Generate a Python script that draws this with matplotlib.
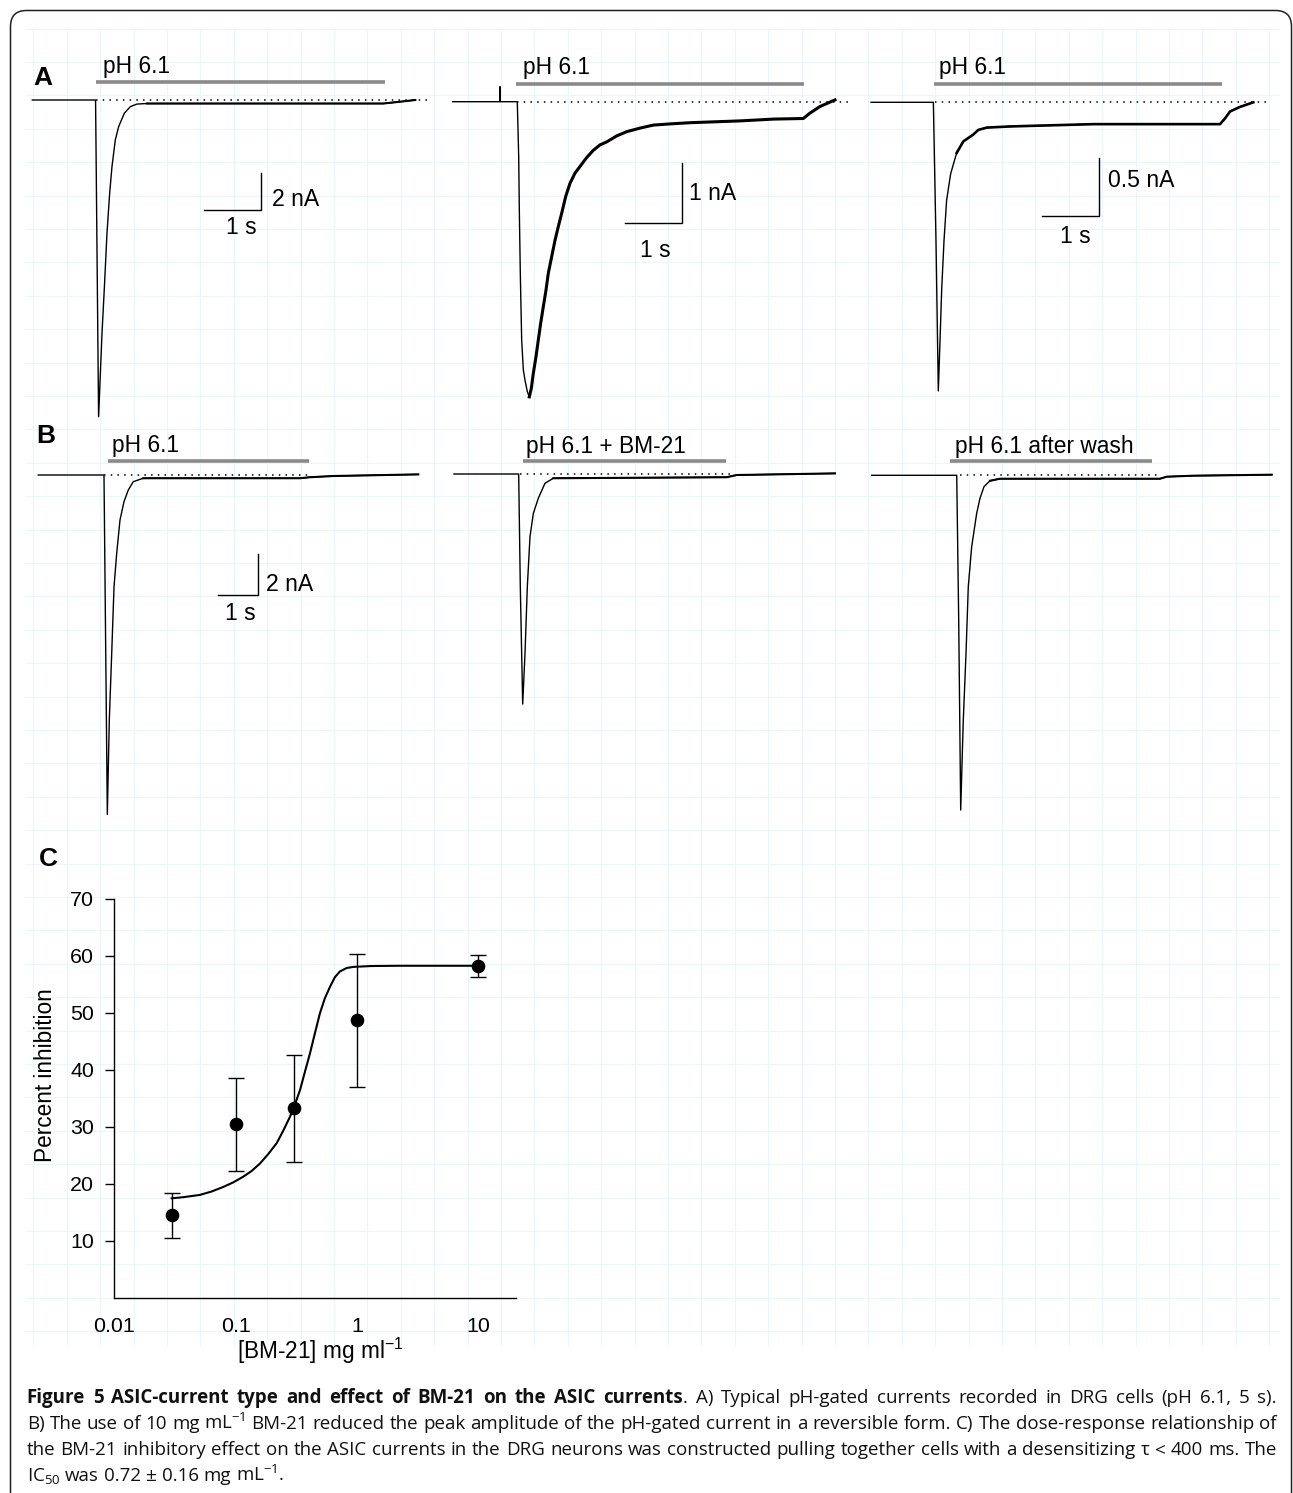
import numpy as np
import matplotlib
matplotlib.use("Agg")
import matplotlib.pyplot as plt
from matplotlib.patches import FancyBboxPatch, Rectangle

# ----------------------------- data -----------------------------
# Panel A: pH 6.1-gated currents (time in s, current in nA)
a1_t = [0.0, 1.11, 1.163, 1.223, 1.268, 1.31, 1.357, 1.398, 1.456, 1.515, 1.614, 1.719, 1.836, 2.01, 6.16, 6.46, 6.72]
a1_i = [0.0, 0.0, -17.12, -12.61, -9.91, -7.21, -5.05, -3.6, -2.16, -1.44, -0.72, -0.36, -0.22, -0.19, -0.19, -0.09, 0.0]

a2_t = [0.0, 0.825, 0.83, 0.835, 1.133, 1.158, 1.168, 1.186, 1.21, 1.239, 1.268, 1.309, 1.344, 1.379, 1.414,
        1.461, 1.502, 1.544, 1.589, 1.637, 1.677, 1.737, 1.795, 1.853, 1.912, 1.982, 2.058, 2.146, 2.233,
        2.351, 2.467, 2.584, 2.702, 2.877, 3.053, 3.286, 3.519, 3.812, 4.163, 5.04, 5.625, 6.151, 6.268,
        6.444, 6.707]
a2_i = [0.0, 0.0, 0.25, 0.0, 0.0, -0.92, -1.75, -2.86, -3.97, -4.47, -4.64, -4.83, -4.92, -4.78, -4.53,
        -4.25, -3.97, -3.69, -3.42, -3.14, -2.86, -2.58, -2.31, -2.08, -1.86, -1.58, -1.36, -1.19, -1.08,
        -0.93, -0.81, -0.72, -0.67, -0.57, -0.50, -0.44, -0.39, -0.37, -0.35, -0.32, -0.29, -0.28, -0.19,
        -0.08, 0.03]

a3_t = [0.0, 1.094, 1.14, 1.181, 1.211, 1.24, 1.281, 1.327, 1.398, 1.503, 1.62, 1.795, 1.883, 2.03, 2.439,
        3.9, 6.123, 6.211, 6.298, 6.474, 6.707]
a3_i = [0.0, 0.0, -1.20, -2.51, -2.07, -1.63, -1.20, -0.85, -0.62, -0.44, -0.34, -0.28, -0.24, -0.22, -0.21,
        -0.19, -0.19, -0.14, -0.08, -0.04, 0.0]

# Panel B: control, + BM-21, after wash
b1_t = [0.0, 1.618, 1.70, 1.749, 1.808, 1.865, 1.931, 2.012, 2.111, 2.217, 2.34, 2.586, 6.446, 6.692, 7.266, 9.36]
b1_i = [0.0, 0.0, -16.8, -12.13, -8.83, -5.53, -3.88, -2.23, -1.32, -0.74, -0.33, -0.16, -0.16, -0.11, -0.05, 0.03]

b2_t = [0.0, 1.593, 1.633, 1.692, 1.749, 1.806, 1.872, 1.954, 2.077, 2.241, 2.446, 6.717, 6.963, 9.384]
b2_i = [0.0, 0.0, -5.58, -11.39, -8.88, -5.58, -3.10, -1.95, -1.20, -0.46, -0.21, -0.16, -0.05, 0.03]

b3_t = [0.0, 2.094, 2.143, 2.192, 2.256, 2.323, 2.379, 2.463, 2.586, 2.667, 2.766, 2.914, 3.16, 7.1, 7.266, 7.921, 9.852]
b3_i = [0.0, 0.0, -7.16, -16.57, -12.11, -8.81, -5.51, -3.53, -1.88, -1.14, -0.56, -0.27, -0.17, -0.17, -0.07, -0.02, 0.03]

# pH application periods (s)
app_start = [1.12, 1.11, 1.11, 1.71, 1.71, 1.93]
app_end = [6.18, 6.17, 6.16, 6.67, 6.69, 6.91]
app_labels = ["pH 6.1", "pH 6.1", "pH 6.1", "pH 6.1", "pH 6.1 + BM-21", "pH 6.1 after wash"]

# Panel C: dose-response
conc = [0.03, 0.1, 0.3, 1.0, 10.0]
inhibition = [14.4, 30.4, 33.2, 48.6, 58.1]
inhibition_err = [3.9, 8.15, 9.35, 11.65, 1.95]
fit_conc = [0.0297, 0.037, 0.0508, 0.0634, 0.0791, 0.0955, 0.1156, 0.1354, 0.1585, 0.186, 0.218, 0.247,
            0.280, 0.308, 0.339, 0.372, 0.409, 0.450, 0.495, 0.543, 0.598, 0.657, 0.722, 0.820, 0.931,
            1.3, 2.25, 10.0]
fit_inhib = [17.4, 17.6, 18.0, 18.6, 19.4, 20.2, 21.2, 22.2, 23.5, 25.2, 27.1, 29.3,
             31.7, 33.9, 36.4, 39.6, 42.8, 46.4, 49.9, 52.5, 54.5, 56.2, 57.2, 57.8, 58.0,
             58.15, 58.2, 58.2]
x_ticks = [0.01, 0.1, 1, 10]
x_ticklabels = ["0.01", "0.1", "1", "10"]
y_ticks = [10, 20, 30, 40, 50, 60, 70]

# ----------------------------- figure -----------------------------
plt.rcParams["font.family"] = ["Liberation Sans", "DejaVu Sans"]
W, H = 1293, 1493
fig = plt.figure(figsize=(W / 100, H / 100), dpi=100)
fig.patch.set_facecolor("white")


def fx(x):
    return x / W


def fy(y):
    return 1 - y / H


# background: faint grid, white image areas, rounded frame
bg = fig.add_axes([0, 0, 1, 1], zorder=-10)
bg.set_xlim(0, W)
bg.set_ylim(H, 0)
bg.axis("off")
gx = np.arange(33.4, 1285, 33.4)
gy = np.arange(28.5, 1350, 33.4)
bg.vlines(gx, 28.5, 1345, color="#eaf7f9", lw=0.8)
bg.hlines(gy, 25, 1280, color="#eaf7f9", lw=0.8)
for (rx, ry, rw, rh) in [(33, 62, 400, 773), (453, 62, 400, 773), (870, 62, 403, 773)]:
    bg.add_patch(Rectangle((rx, ry), rw, rh, facecolor="white", edgecolor="none"))
bg.add_patch(FancyBboxPatch((10.5, 10.5), 1281, 1530, boxstyle="round,pad=0,rounding_size=16",
                            fill=False, ec="#222222", lw=1.1, clip_on=False))


def trace_ax(box, origin, scale):
    x0, y0, x1, y1 = box
    ox, oy = origin
    pps, ppn = scale
    ax = fig.add_axes([fx(x0), fy(y1), (x1 - x0) / W, (y1 - y0) / H])
    ax.set_xlim((x0 - ox) / pps, (x1 - ox) / pps)
    ax.set_ylim((oy - y1) / ppn, (oy - y0) / ppn)
    ax.axis("off")
    ax.patch.set_alpha(0)
    return ax


traces = [(a1_t, a1_i), (a2_t, a2_i), (a3_t, a3_i), (b1_t, b1_i), (b2_t, b2_i), (b3_t, b3_i)]
boxes = [(25, 50, 445, 430), (445, 50, 865, 430), (865, 50, 1285, 430),
         (25, 430, 445, 840), (445, 430, 865, 840), (865, 430, 1285, 840)]
origins = [(32.3, 100), (452.7, 101.7), (871, 102.3), (38.3, 475), (454, 474), (871.7, 475.3)]
scales = [(57, 18.5), (57, 60), (57, 115), (40.6, 20.2), (40.6, 20.2), (40.6, 20.2)]
dotted = [(1.12, 6.98), (1.13, 6.97), (1.12, 6.96), (1.62, 6.69), (1.63, 6.80), (2.17, 7.03)]
bar_level = [0.96, 0.30, 0.157, 0.69, 0.63, 0.69]
label_pos = [(103.3, 72.7), (523.3, 74.3), (939.3, 74.3), (111.7, 451.7), (525.7, 452.7), (955, 452.7)]
thick_from = [1.9, 1.34, 1.5, 2.4, 2.3, 2.8]
thin_lw = [1.0, 1.0, 1.0, 1.0, 1.0, 1.0]
thick_lw = [1.5, 2.2, 1.9, 1.5, 1.5, 1.5]

axes = []
for k in range(6):
    ax = trace_ax(boxes[k], origins[k], scales[k])
    axes.append(ax)
    t = np.array(traces[k][0])
    i = np.array(traces[k][1])
    ax.plot(t, i, color="black", lw=thin_lw[k], clip_on=False)
    m = t >= thick_from[k]
    ax.plot(t[m], i[m], color="black", lw=thick_lw[k], clip_on=False, solid_joinstyle="round")
    ax.plot(dotted[k], [0, 0], color="black", lw=1.1, ls=(0, (1, 3.4)), clip_on=False)
    ax.plot([app_start[k], app_end[k]], [bar_level[k], bar_level[k]], color="#8a8a8a", lw=2.6,
            solid_capstyle="butt", clip_on=False)
    fig.text(fx(label_pos[k][0]), fy(label_pos[k][1]), app_labels[k], fontsize=16.4,
             ha="left", va="baseline", color="black")

# scale bars
scalebars = [
    (0, (261, 210), 1, 2, "2 nA", (271.7, 206.0), (241.7, 233.8)),
    (1, (682, 222.7), 1, 1, "1 nA", (689.3, 200.5), (655, 256.8)),
    (2, (1099, 216), 1, 0.5, "0.5 nA", (1108.3, 187.0), (1075, 243.0)),
    (3, (258.3, 594.7), 1, 2, "2 nA", (265.7, 591.0), (240, 619.5)),
]
for (k, (cx, cy), s_len, n_len, lab, lpos, spos) in scalebars:
    ox, oy = origins[k]
    pps, ppn = scales[k]
    tc = (cx - ox) / pps
    ic = (oy - cy) / ppn
    axes[k].plot([tc - s_len, tc, tc], [ic, ic, ic + n_len], color="black", lw=1.0,
                 solid_joinstyle="miter", clip_on=False)
    fig.text(fx(lpos[0]), fy(lpos[1]), lab, fontsize=16.6, ha="left", va="baseline")
    fig.text(fx(spos[0]), fy(spos[1]), "1 s", fontsize=16.6, ha="center", va="baseline")

# panel letters
fig.text(fx(33.3), fy(85), "A", fontsize=19, fontweight="bold", ha="left", va="baseline")
fig.text(fx(36.7), fy(443.3), "B", fontsize=19, fontweight="bold", ha="left", va="baseline")
fig.text(fx(38.6), fy(865.8), "C", fontsize=19, fontweight="bold", ha="left", va="baseline")

# ----------------------------- panel C -----------------------------
cx0, cy0, cx1, cy1 = 114.3, 898.5, 515.5, 1297.5
axC = fig.add_axes([fx(cx0), fy(cy1), (cx1 - cx0) / W, (cy1 - cy0) / H])
axC.patch.set_alpha(0)
axC.set_xscale("log")
axC.set_xlim(0.01, 20.2)
axC.set_ylim(0, 70)
axC.plot(fit_conc, fit_inhib, color="black", lw=1.5, zorder=2, solid_joinstyle="round")
axC.errorbar(conc, inhibition, yerr=inhibition_err, fmt="o", color="black", ms=8.8,
             capsize=5.5, elinewidth=1.0, capthick=1.0, zorder=3)
for s in ["top", "right"]:
    axC.spines[s].set_visible(False)
for s in ["left", "bottom"]:
    axC.spines[s].set_linewidth(1.0)
axC.set_xticks(x_ticks)
axC.set_xticklabels(x_ticklabels)
axC.xaxis.set_minor_locator(matplotlib.ticker.NullLocator())
axC.set_yticks(y_ticks)
axC.tick_params(axis="y", direction="out", length=6.7, width=1.0, pad=8, labelsize=15.4)
axC.tick_params(axis="x", length=0, pad=14, labelsize=15.4)
axC.set_ylabel("Percent inhibition", fontsize=16.3)
axC.yaxis.set_label_coords((45.6 - cx0) / (cx1 - cx0), (cy1 - 1074.9) / (cy1 - cy0))
axC.yaxis.label.set_va("center")
axC.set_xlabel(r"[BM-21] mg ml$\mathregular{^{-1}}$", fontsize=16.3)
axC.xaxis.set_label_coords((320.3 - cx0) / (cx1 - cx0), (cy1 - 1359.0) / (cy1 - cy0))
axC.xaxis.label.set_va("baseline")

# ----------------------------- caption -----------------------------
cap_font = ["Open Sans", "DejaVu Sans"]
cap_size = 13.5
cap_left, cap_right = 26.7, 1277.0
cap_baselines = [1403.3, 1429.3, 1455.3, 1481.3]
cap_lines = [
    [("Figure 5 ASIC-current type and effect of BM-21 on the ASIC currents", "bold"),
     (". A) Typical pH-gated currents recorded in DRG cells (pH 6.1, 5 s).", "normal")],
    [("B) The use of 10 mg mL$\\mathregular{^{-1}}$ BM-21 reduced the peak amplitude of the pH-gated "
      "current in a reversible form. C) The dose-response relationship of", "normal")],
    [("the BM-21 inhibitory effect on the ASIC currents in the DRG neurons was constructed pulling "
      "together cells with a desensitizing \u03c4 < 400 ms. The", "normal")],
    [("IC$\\mathregular{_{50}}$ was 0.72 \u00b1 0.16 mg mL$\\mathregular{^{-1}}$.", "normal")],
]

renderer = fig.canvas.get_renderer()
for li, runs in enumerate(cap_lines):
    words = []
    for run_text, weight in runs:
        parts = run_text.split(" ")
        for pi, p in enumerate(parts):
            if p == "":
                continue
            if pi == 0 and words and not run_text.startswith(" "):
                words[-1].append((p, weight))
            else:
                words.append([(p, weight)])
    objs = []
    widths = []
    for grp in words:
        gobjs = []
        gw = 0.0
        for txt, weight in grp:
            t = fig.text(0, fy(cap_baselines[li]), txt, fontsize=cap_size, fontweight=weight,
                         family=cap_font, ha="left", va="baseline", color="#111111")
            w = t.get_window_extent(renderer).width
            gobjs.append((t, w))
            gw += w
        objs.append(gobjs)
        widths.append(gw)
    total = sum(widths)
    if li < len(cap_lines) - 1 and len(words) > 1:
        gap = (cap_right - cap_left - total) / (len(words) - 1)
    else:
        gap = 0.26 * cap_size * 100 / 72
    x = cap_left
    for gobjs, gw in zip(objs, widths):
        xx = x
        for t, w in gobjs:
            t.set_x(fx(xx))
            xx += w
        x += gw + gap

fig.savefig("out.png", dpi=100, facecolor="white")
